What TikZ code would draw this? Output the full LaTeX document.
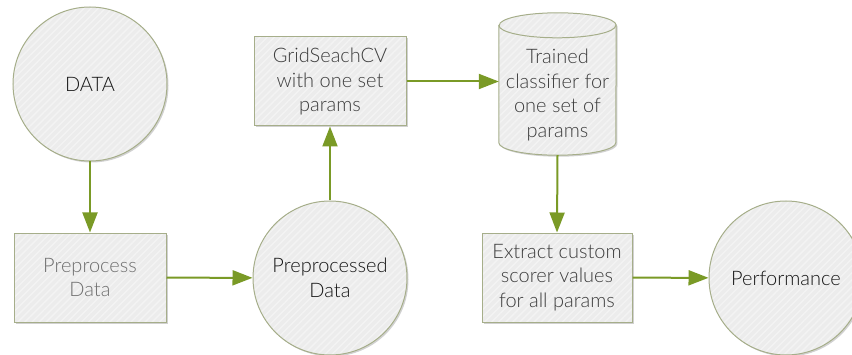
\documentclass[tikz,border=0pt]{standalone}
\usepackage{fontspec}
\setmainfont{Lato Light}
\usetikzlibrary{arrows.meta,shadows,patterns.meta}

\definecolor{shapefill}{RGB}{236,236,236}
\definecolor{shapeline}{RGB}{166,174,138}
\definecolor{flow}{RGB}{122,154,38}
\definecolor{darktext}{RGB}{20,20,20}
\definecolor{midtext}{RGB}{60,60,60}
\definecolor{lighttext}{RGB}{110,110,110}

\tikzset{
  shapebase/.style={
    drop shadow={shadow xshift=1.5pt, shadow yshift=-1.5pt, opacity=0.18, fill=black},
    preaction={fill=shapefill},
    preaction={pattern={Lines[angle=45,distance=5pt,line width=1.4pt]}, pattern color=white, opacity=0.4},
    draw=shapeline, line width=1pt
  },
  label text/.style={align=center, font=\fontsize{20}{24.5}\selectfont},
  roundnode/.style={shapebase, circle, minimum size=154pt, inner sep=0pt, label text},
  boxnode/.style={shapebase, rectangle, minimum width=152pt, minimum height=89pt, inner sep=0pt, label text},
  flowarrow/.style={draw=flow, line width=2pt, -{Triangle[length=20pt,width=15pt]}}
}

\begin{document}
\begin{tikzpicture}[x=1pt,y=1pt]
  \useasboundingbox (0,0) rectangle (852,354);

  % left column
  \node[roundnode, text=darktext] (data) at (90,270) {DATA};
  \node[boxnode, text=lighttext] (prep) at (90,76.5) {Preprocess\\Data};

  % middle column
  \node[roundnode, text=darktext] (pdata) at (330,76) {Preprocessed\\Data};
  \node[boxnode, text=midtext] (grid) at (330,272.5) {GridSeachCV\\with one set\\params};

  % trained classifier store (cylinder drawn around an empty frame node)
  \node[minimum width=117pt, minimum height=142pt, inner sep=0pt] (cyl) at (557.5,270) {};
  \path[shapebase]
    ([yshift=-12.5pt]cyl.north west) -- ([yshift=12.5pt]cyl.south west)
    arc[start angle=180, end angle=360, x radius=58.5pt, y radius=12.5pt]
    -- ([yshift=-12.5pt]cyl.north east)
    arc[start angle=0, end angle=180, x radius=58.5pt, y radius=12.5pt]
    -- cycle;
  \draw[draw=shapeline, line width=1pt] ([yshift=-12.5pt]cyl.north west)
    arc[start angle=180, end angle=360, x radius=58.5pt, y radius=12.5pt];
  \node[label text, text=midtext] (cyltext) at (557.5,259) {Trained\\classifier for\\one set of\\params};

  % right part
  \node[boxnode, text=midtext, minimum width=150pt] (extract) at (557,76.5) {Extract custom\\scorer values\\for all params};
  \node[roundnode, text=darktext] (perf) at (786,76) {Performance};

  % flow
  \draw[flowarrow] (data) -- (prep);
  \draw[flowarrow] (prep) -- (pdata);
  \draw[flowarrow] (pdata) -- (grid);
  \draw[flowarrow] (grid.east) -- (grid.east -| cyl.west);
  \draw[flowarrow] (cyl.south) -- (extract.north);
  \draw[flowarrow] (extract) -- (perf);
\end{tikzpicture}
\end{document}
